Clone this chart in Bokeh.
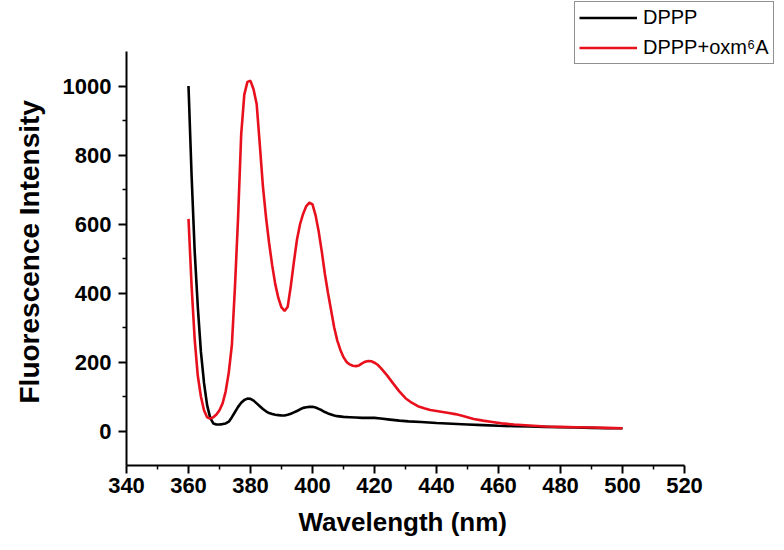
from bokeh.plotting import figure
from bokeh.models import Range1d, FixedTicker, Legend, LegendItem, Title
from bokeh.embed import file_html
from bokeh.resources import INLINE

# ---- data ----
wl_dppp = [360, 361, 362, 363, 364, 365, 366, 367, 368, 369, 370, 371, 372, 373, 374,
           375, 376, 377, 378, 379, 380, 381, 382, 383, 384, 385, 386, 387, 388, 389,
           390, 391, 392, 393, 394, 395, 396, 397, 398, 399, 400, 401, 402, 403, 404,
           405, 406, 407, 408, 410, 412, 414, 416, 418, 420, 422, 425, 428, 431, 435,
           440, 445, 450, 455, 460, 465, 470, 475, 480, 485, 490, 495, 500]
int_dppp = [1000, 740, 520, 360, 230, 140, 75, 38, 22, 19, 19, 20, 22, 27, 40,
            55, 70, 82, 90, 94, 93, 88, 80, 72, 64, 57, 52, 49, 47, 46,
            45, 45, 47, 50, 54, 58, 63, 67, 69, 70, 70, 68, 64, 60, 55,
            51, 48, 45, 43, 41, 40, 39, 38, 38, 38, 36, 33, 30, 28, 26,
            23, 21, 19, 17, 15, 14, 13, 12, 11, 10, 9, 8, 8]

wl_oxm = [360, 361, 362, 363, 364, 365, 366, 367, 368, 369, 370, 371, 372, 373, 374,
          375, 376, 377, 378, 379, 380, 381, 382, 383, 384, 385, 386, 387, 388, 389,
          390, 391, 392, 393, 394, 395, 396, 397, 398, 399, 400, 401, 402, 403, 404,
          405, 406, 407, 408, 409, 410, 411, 412, 413, 414, 415, 416, 417, 418, 419,
          420, 421, 422, 424, 426, 428, 430, 432, 434, 436, 438, 440, 442, 444, 446,
          448, 450, 452, 455, 458, 461, 465, 470, 475, 480, 485, 490, 495, 500]
int_oxm = [615, 420, 265, 160, 100, 60, 40, 36, 40, 48, 60, 80, 115, 170, 250,
           420, 620, 860, 975, 1012, 1015, 990, 947, 830, 710, 620, 545, 480, 425, 385,
           358, 348, 360, 420, 490, 555, 600, 630, 652, 662, 657, 625, 578, 520, 455,
           400, 350, 300, 262, 235, 214, 200, 193, 189, 188, 190, 196, 201, 203, 202,
           198, 192, 183, 162, 138, 115, 95, 82, 72, 66, 61, 58, 55, 52, 49,
           45, 40, 35, 30, 26, 22, 19, 16, 13, 12, 11, 10, 9, 8]

x_major = [340, 360, 380, 400, 420, 440, 460, 480, 500, 520]
x_minor = [350, 370, 390, 410, 430, 450, 470, 490, 510]
y_major = [0, 200, 400, 600, 800, 1000]
y_minor = [100, 300, 500, 700, 900]

label_a = "DPPP"
label_b = "DPPP+oxm\u2076A"
x_title = "Wavelength (nm)"
y_title = "Fluorescence Intensity"

FONT = "Liberation Sans"
PX_PER_NM = 3.1
PX_PER_UNIT = 0.345
FRAME_W, FRAME_H = 653, 465

p = figure(output_backend="svg", toolbar_location=None, title=None,
           frame_width=FRAME_W, frame_height=FRAME_H,
           min_border_left=125, min_border_right=6,
           min_border_top=0, min_border_bottom=85,
           x_range=Range1d(340, 340 + FRAME_W / PX_PER_NM),
           y_range=Range1d(-100, -100 + FRAME_H / PX_PER_UNIT))

p.grid.visible = False
p.outline_line_color = None
p.background_fill_color = "white"
p.border_fill_color = "white"

r1 = p.line(wl_dppp, int_dppp, line_color="black", line_width=2.6)
r2 = p.line(wl_oxm, int_oxm, line_color="#e8101c", line_width=2.6)

for ax in (p.xaxis[0], p.yaxis[0]):
    ax.axis_line_width = 2
    ax.axis_line_color = "black"
    ax.major_tick_line_width = 2
    ax.minor_tick_line_width = 1.5
    ax.major_tick_line_color = "black"
    ax.minor_tick_line_color = "black"
    ax.major_tick_in = 0
    ax.major_tick_out = 8
    ax.minor_tick_in = 0
    ax.minor_tick_out = 4
    ax.major_label_text_font = FONT
    ax.major_label_text_font_style = "bold"
    ax.major_label_text_font_size = "22px"
    ax.major_label_text_color = "black"

p.xaxis[0].bounds = (340, 520)
p.yaxis[0].bounds = (-100, 1100)
p.xaxis[0].ticker = FixedTicker(ticks=x_major, minor_ticks=x_minor)
p.yaxis[0].ticker = FixedTicker(ticks=y_major, minor_ticks=y_minor)
p.xaxis[0].major_label_standoff = 4
p.yaxis[0].major_label_standoff = 7

# axis titles placed along the axis bounds (not the wider frame)
xt = Title(text=x_title, align="left", offset=172, standoff=18,
           text_font=FONT, text_font_style="bold", text_font_size="26px",
           text_color="black")
p.add_layout(xt, "below")
yt = Title(text=y_title, align="left", offset=62, standoff=26,
           vertical_align="top",
           text_font=FONT, text_font_style="bold", text_font_size="28px",
           text_color="black")
p.add_layout(yt, "left")

legend = Legend(items=[LegendItem(label=label_a, renderers=[r1]),
                       LegendItem(label=label_b, renderers=[r2])],
                location=(448, 401),
                padding=4, spacing=7, margin=0,
                glyph_width=58, glyph_height=23, label_height=23,
                label_standoff=6,
                label_text_font=FONT, label_text_font_size="20px",
                label_text_color="black",
                border_line_color="#222222", border_line_width=1.5,
                background_fill_color="white", background_fill_alpha=1.0)
p.add_layout(legend, "center")

open("out.html", "w").write(file_html(p, INLINE))
